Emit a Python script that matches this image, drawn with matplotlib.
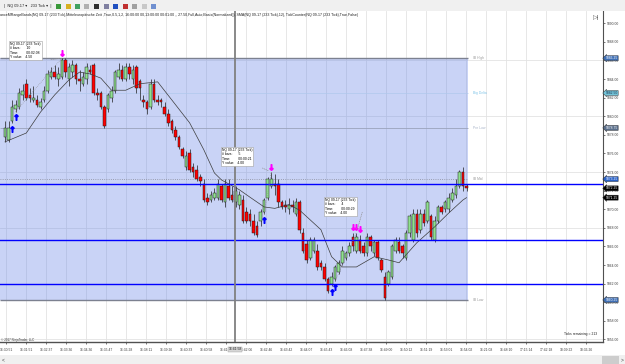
import numpy as np
import matplotlib.pyplot as plt
from matplotlib.patches import Rectangle
import matplotlib.transforms as mtransforms

plt.rcParams['font.family'] = ['Liberation Sans', 'DejaVu Sans']

# NQ 09-17 (233 Tick) bars
opens = [5877.75, 5877.5, 5879.5, 5880.75, 5881.0, 5882.25, 5883.5, 5882.25, 5881.75, 5881.75,
         5881.0, 5881.75, 5882.75, 5884.25, 5884.75, 5884.0, 5884.25, 5886.0, 5884.0, 5884.75,
         5885.5, 5884.0, 5883.5, 5884.0, 5885.0, 5885.5, 5882.5, 5882.5, 5881.0, 5880.75,
         5882.0, 5882.75, 5884.25, 5885.0, 5884.0, 5885.25, 5884.0, 5885.25, 5883.75, 5881.75,
         5881.5, 5881.0, 5883.5, 5881.75, 5881.75, 5881.0, 5880.25, 5879.5, 5878.5, 5877.75,
         5876.5, 5874.5, 5876.0, 5874.5, 5874.25, 5873.5, 5872.75, 5871.25, 5871.0, 5871.25,
         5871.25, 5872.5, 5870.75, 5872.5, 5871.5, 5870.75, 5870.5, 5871.0, 5869.75, 5869.5,
         5868.75, 5868.25, 5868.75, 5869.75, 5871.25, 5872.5, 5872.75, 5872.75, 5870.75, 5870.5,
         5870.0, 5870.5, 5869.5, 5870.75, 5867.5, 5866.25, 5864.75, 5865.5, 5865.5, 5864.25,
         5863.75, 5862.5, 5862.0, 5862.5, 5863.25, 5864.25, 5864.75, 5865.25, 5867.0, 5865.5,
         5866.75, 5866.0, 5865.25, 5867.0, 5865.25, 5866.5, 5864.5, 5862.75, 5862.0, 5862.75,
         5865.5, 5866.5, 5866.0, 5864.75, 5867.5, 5866.75, 5869.5, 5867.75, 5869.5, 5868.75,
         5869.25, 5866.75, 5868.75, 5870.25, 5870.0, 5870.0, 5871.0, 5871.5, 5872.5, 5874.0,
         5872.5]
highs = [5879.5, 5879.5, 5881.75, 5881.75, 5883.0, 5883.5, 5884.0, 5883.0, 5883.25, 5882.25,
         5882.0, 5883.25, 5885.0, 5885.25, 5885.5, 5885.25, 5886.25, 5886.25, 5885.75, 5886.0,
         5885.75, 5885.0, 5884.75, 5885.75, 5885.5, 5885.75, 5883.0, 5882.75, 5881.25, 5882.5,
         5883.25, 5885.0, 5885.75, 5885.5, 5885.75, 5885.75, 5885.5, 5885.5, 5884.0, 5882.25,
         5881.75, 5884.0, 5884.0, 5882.25, 5882.0, 5881.5, 5880.75, 5879.75, 5879.0, 5878.0,
         5876.75, 5876.25, 5876.5, 5875.0, 5874.75, 5873.75, 5873.25, 5871.75, 5872.0, 5872.25,
         5873.25, 5872.75, 5873.25, 5873.25, 5872.5, 5872.5, 5872.0, 5871.5, 5870.25, 5870.0,
         5869.5, 5868.75, 5870.0, 5871.25, 5873.5, 5874.0, 5873.75, 5873.25, 5871.0, 5871.0,
         5871.25, 5871.0, 5871.25, 5871.0, 5868.0, 5866.75, 5867.0, 5867.0, 5866.25, 5864.5,
         5864.25, 5862.75, 5863.25, 5864.0, 5864.5, 5866.0, 5865.5, 5866.5, 5867.5, 5867.5,
         5867.25, 5866.5, 5867.5, 5867.25, 5866.75, 5866.75, 5864.75, 5863.25, 5863.5, 5866.25,
         5867.0, 5867.0, 5866.25, 5867.75, 5869.5, 5870.0, 5870.0, 5870.0, 5870.0, 5871.0,
         5869.5, 5869.25, 5870.5, 5870.5, 5871.0, 5871.75, 5872.25, 5873.25, 5874.25, 5874.5,
         5872.75]
lows = [5877.25, 5877.25, 5879.25, 5880.5, 5880.75, 5881.75, 5881.75, 5881.5, 5881.5, 5881.0,
        5880.75, 5881.5, 5882.5, 5884.0, 5884.0, 5883.25, 5884.0, 5884.25, 5883.25, 5884.25,
        5883.5, 5882.75, 5883.25, 5883.5, 5884.5, 5882.25, 5881.75, 5880.75, 5878.75, 5880.5,
        5881.5, 5882.5, 5884.0, 5883.75, 5883.75, 5884.0, 5883.5, 5882.5, 5881.75, 5881.0,
        5880.25, 5880.75, 5881.5, 5881.25, 5881.0, 5880.0, 5879.0, 5878.25, 5877.5, 5876.5,
        5875.5, 5874.25, 5874.0, 5873.5, 5873.0, 5872.5, 5870.75, 5870.5, 5870.75, 5871.0,
        5871.0, 5870.75, 5870.25, 5871.0, 5870.75, 5870.25, 5870.0, 5868.5, 5868.5, 5868.25,
        5867.25, 5867.0, 5868.25, 5869.5, 5871.0, 5872.25, 5871.5, 5870.25, 5870.0, 5869.75,
        5869.5, 5869.75, 5869.25, 5867.5, 5865.25, 5864.25, 5864.5, 5865.25, 5863.5, 5863.5,
        5862.25, 5861.0, 5861.75, 5862.25, 5863.0, 5864.0, 5864.5, 5865.0, 5865.5, 5865.25,
        5865.25, 5865.0, 5865.0, 5865.5, 5865.0, 5864.5, 5863.25, 5860.25, 5861.75, 5862.5,
        5865.25, 5865.25, 5864.75, 5864.5, 5867.0, 5866.5, 5867.0, 5867.5, 5868.25, 5868.5,
        5866.75, 5866.5, 5868.5, 5869.5, 5869.75, 5869.75, 5870.75, 5871.25, 5872.25, 5872.0,
        5872.0]
closes = [5878.75, 5878.75, 5881.0, 5881.25, 5882.5, 5882.75, 5882.0, 5882.0, 5882.0, 5881.25,
          5881.5, 5882.75, 5884.5, 5884.75, 5884.25, 5884.5, 5886.0, 5884.75, 5885.25, 5885.5,
          5884.0, 5883.75, 5884.25, 5885.25, 5884.75, 5882.5, 5882.25, 5881.0, 5879.0, 5882.25,
          5882.75, 5884.75, 5885.0, 5884.0, 5885.25, 5884.5, 5885.0, 5883.0, 5883.0, 5881.5,
          5880.75, 5883.5, 5881.75, 5881.5, 5881.5, 5880.25, 5879.25, 5878.5, 5877.75, 5876.75,
          5875.75, 5875.75, 5874.25, 5874.0, 5873.25, 5873.0, 5871.0, 5870.75, 5871.5, 5871.75,
          5872.75, 5871.0, 5872.75, 5871.25, 5871.0, 5872.0, 5871.5, 5868.75, 5868.75, 5868.75,
          5867.5, 5867.25, 5869.75, 5871.0, 5873.25, 5873.25, 5872.5, 5870.75, 5870.25, 5870.25,
          5870.5, 5870.25, 5870.75, 5867.75, 5865.5, 5864.5, 5866.75, 5866.75, 5863.75, 5863.75,
          5862.5, 5861.25, 5862.75, 5863.75, 5864.25, 5865.5, 5865.25, 5866.0, 5866.0, 5867.0,
          5865.5, 5865.25, 5867.0, 5866.0, 5866.5, 5864.75, 5863.5, 5860.5, 5863.25, 5866.0,
          5866.75, 5865.5, 5865.25, 5867.5, 5869.25, 5869.5, 5867.5, 5869.5, 5868.5, 5870.75,
          5867.0, 5868.75, 5870.25, 5869.75, 5870.75, 5871.25, 5871.75, 5872.5, 5874.0, 5872.5,
          5872.25]

# SMA(12) at some bars
ma_bars = [0, 6, 10, 14, 18, 21, 24, 27, 30, 34, 38, 43, 47, 52, 56, 59, 61, 66, 69, 73,
           76, 80, 83, 89, 92, 95, 99, 104, 108, 111, 116, 121, 125, 129, 130]
ma_vals = [5877.25, 5878.2, 5880.45, 5882.3, 5883.9, 5884.75, 5884.55, 5884.1, 5882.8, 5882.8,
           5883.5, 5883.7, 5881.75, 5879.3, 5876.4, 5873.9, 5873.15, 5872.1, 5871.3, 5870.25,
           5870.1, 5870.5, 5869.9, 5867.8, 5864.9, 5863.8, 5863.8, 5864.9, 5864.55, 5864.25,
           5866.4, 5868.1, 5869.6, 5871.0, 5871.25]

# range band levels
ib_high = 5886.25
ib_low = 5860.25
ib_mid = 5873.25
pre_low = 5878.75
big_delta = 5882.50
blue_levels = [5872.75, 5866.75, 5862.00]

swing_high_bars = [16, 75, 98, 99, 100]
swing_low_bars = [2, 3, 73, 92, 93]

# tooltip contents: bars, time, y value
tip_bars = ['10', '5', '4']
tip_times = ['00:02:08', '00:00:21', '00:00:29']
tip_yvals = ['4.50', '4.00', '4.00']

time_labels = ['16:30:51', '16:31:51', '16:32:37', '16:33:36', '16:34:36', '16:35:47',
               '16:36:28', '16:38:11', '16:39:26', '16:40:33', '16:40:58', '16:41:26',
               '16:42:06', '16:42:46', '16:43:42', '16:44:07', '16:45:43', '16:46:08',
               '16:47:38', '16:49:00', '16:50:12', '16:51:19', '16:53:01', '16:54:02',
               '16:21:08', '16:48:10', '17:15:14', '17:42:18', '18:09:22', '18:36:26']
price_ticks = np.arange(5856, 5891, 2)

fs = 2.4
fig = plt.figure(figsize=(6.25, 3.64), dpi=100)
ax = fig.add_axes([0, 1 - 342 / 364, 603 / 625, 331 / 364])
ax.set_xlim(-1.41, 168.45)
ax.set_ylim(5855.73, 5891.32)

x = np.arange(len(closes))
o = np.array(opens)
h = np.array(highs)
l = np.array(lows)
c = np.array(closes)
up = c >= o

# grid
tick_pos = 0.4 + np.arange(len(time_labels)) * 20 / 3.55
for t in tick_pos:
    ax.axvline(t, color='#e3e3e3', lw=0.6, zorder=0)
for p in np.arange(5856, 5891, 6):
    ax.axhline(p, color='#e3e3e3', lw=0.6, zorder=0)

# initial balance box
box_right = 130.4
ax.add_patch(Rectangle((-1.41, ib_low), box_right + 1.41, ib_high - ib_low,
                       facecolor='#6a86e8', alpha=0.36, lw=0, zorder=1))
ax.hlines([ib_high, ib_low], -1.41, box_right, color='#7c8190', lw=1.0, zorder=2)
ax.hlines(ib_mid, -1.41, box_right, color='#8a8c98', lw=0.6, ls=':', zorder=2)
ax.hlines(pre_low, -1.41, box_right, color='#9aa3bb', lw=0.6, zorder=2)
ax.hlines(big_delta, -1.41, box_right, color='#b0c8ec', lw=0.5, zorder=2)
for lv, name, col in [(ib_high, 'IB High', '#999999'), (big_delta, 'Big Delta', '#7fc4e8'),
                      (pre_low, 'Pre Low', '#a7b3c8'), (ib_mid, 'IB Mid', '#999999'),
                      (ib_low, 'IB Low', '#999999')]:
    ax.text(box_right + 1.5, lv, name, fontsize=fs, color=col, va='center', ha='left')

# candles
ax.vlines(x, l, h, color='#1e1e1e', lw=0.5, zorder=3)
body_lo = np.minimum(o, c)
body_h = np.maximum(np.abs(c - o), 0.08)
ax.bar(x[up], body_h[up], 0.72, body_lo[up], color='#8fe08f', edgecolor='#1e1e1e', lw=0.35, zorder=4)
ax.bar(x[~up], body_h[~up], 0.72, body_lo[~up], color='#ff0000', edgecolor='#1e1e1e', lw=0.35, zorder=4)

# sma
ax.plot(ma_bars, ma_vals, color='#3c3c3c', lw=0.5, zorder=5)

# blue lines
for lv in blue_levels:
    ax.axhline(lv, color='#0000ff', lw=1.0, zorder=6)

# crosshair
ax.axvline(64.8, color='#808080', lw=1.3, zorder=7)

# swing markers
for b in swing_high_bars:
    ax.plot(b, h[b] + 0.6, marker=r'$\downarrow$', color='#ff00ff', ms=4, zorder=8)
for b in swing_low_bars:
    ax.plot(b, l[b] - 0.6, marker=r'$\uparrow$', color='#0000ff', ms=4, zorder=8)

# tooltips
tip_xy = [(0.0166, 0.906), (0.368, 0.586), (0.539, 0.435)]
tip_corner = [(0.08, 0.852), (0.431, 0.529), (0.602, 0.40)]
tip_hi = [16, 75, 99]
tip_lo = [3, 73, 93]
for i in range(3):
    txt = ('NQ 09-17 (233 Tick)\n# bars:      ' + tip_bars[i] + '\nTime:        ' + tip_times[i]
           + '\nY value:   ' + tip_yvals[i])
    ax.text(tip_xy[i][0], tip_xy[i][1], txt, transform=ax.transAxes, fontsize=fs, va='top',
            ha='left', linespacing=1.1, zorder=9,
            bbox=dict(boxstyle='square,pad=0.3', facecolor='white', edgecolor='#a0a0a0', lw=0.4))
    ax.annotate('', xy=(tip_hi[i], h[tip_hi[i]]), xytext=tip_corner[i], textcoords='axes fraction',
                arrowprops=dict(arrowstyle='-', color='#909090', lw=0.5, ls=':'), zorder=8)
    ax.plot([tip_lo[i], tip_hi[i]], [l[tip_lo[i]], h[tip_hi[i]]], color='#909090', lw=0.5, ls=':', zorder=8)

ax.text(0.99, 0.018, 'Ticks remaining = 213', transform=ax.transAxes, fontsize=fs,
        ha='right', va='bottom', color='#202020')

# tick counter dots under the bars
trans = mtransforms.blended_transform_factory(ax.transData, ax.transAxes)
ax.scatter(x, np.full(len(x), -0.007), s=0.5, marker='s', color='#1f3fd0', transform=trans,
           clip_on=False, zorder=9, linewidths=0)

# axes
ax.yaxis.tick_right()
ax.set_yticks(price_ticks)
ax.set_yticklabels(['%.2f' % p for p in price_ticks])
ax.set_xticks(tick_pos)
ax.set_xticklabels(time_labels)
ax.tick_params(axis='y', labelsize=fs, colors='#404040', length=1.5, width=0.5, pad=1.2)
ax.tick_params(axis='x', labelsize=fs, colors='#404040', length=1.5, width=0.5, pad=2.5)
for s in ['top', 'left']:
    ax.spines[s].set_visible(False)
ax.spines['right'].set_color('#505050')
ax.spines['right'].set_linewidth(0.8)
ax.spines['bottom'].set_color('#505050')
ax.spines['bottom'].set_linewidth(1.0)

# highlighted price markers on the axis
ytr = mtransforms.blended_transform_factory(ax.transAxes, ax.transData)
marks = [(ib_high, '#3f6fb5', 'white'), (big_delta, '#74c4d8', '#1b3550'),
         (pre_low, '#5a6f8c', 'white'), (ib_mid, '#2a62c8', 'white'),
         (closes[-1], 'black', 'white'), (ma_vals[-1], 'black', 'white'),
         (ib_low, '#3f6fb5', 'white')]
for lv, fc, tc in marks:
    ax.text(1.004, lv, '%.2f' % lv, transform=ytr, fontsize=fs, color=tc, va='center', ha='left',
            zorder=10, clip_on=False,
            bbox=dict(boxstyle='larrow,pad=0.15', facecolor=fc, edgecolor='#202020', lw=0.3))

# crosshair time
ax.text(64.8, -0.022, '16:41:58', transform=trans, fontsize=fs, ha='center', va='center',
        color='#202020', zorder=10,
        bbox=dict(boxstyle='square,pad=0.15', facecolor='#d6d6d6', edgecolor='#a0a0a0', lw=0.3))

# window chrome
fig.patches.append(Rectangle((0, 1 - 11 / 364), 1, 11 / 364, transform=fig.transFigure,
                             facecolor='#f0f0f0', edgecolor='none', zorder=0))
fig.text(4 / 625, 1 - 5.5 / 364, '|  NQ 09-17 \u25be   233 Tick \u25be  |', fontsize=2.8,
         va='center', color='#202020')
icon_cols = ['#3a9a3a', '#d8b020', '#40a060', '#b0b0b0', '#303030', '#8080a0', '#2050c0',
             '#c03030', '#a0a0a0', '#c8c8c8', '#7090d0']
for i, col in enumerate(icon_cols):
    xx = 56 + i * 9.5
    fig.patches.append(Rectangle((xx / 625, 1 - 8.5 / 364), 5 / 625, 5 / 364,
                                 transform=fig.transFigure, facecolor=col, edgecolor='none'))
fig.text(0, 1 - 15 / 364,
         'anceMRangeBands(NQ 09-17 (233 Tick),Mitteleurop\u00e4ische Zeit ,True,0.5,1,2, 16:00:00 00,13:00:00 00:01:00 ,, 27.50,Full,Auto,Basis(Normalized)), SMA(NQ 09-17 (233 Tick),12), TickCounter(NQ 09-17 (233 Tick),True,False)',
         fontsize=2.6, va='center', color='#202020')
fig.text(596 / 625, 1 - 17 / 364, '\u25b7|', fontsize=4.5, va='center', ha='center', color='#505050')
fig.text(1 / 625, 0.0604, '\u00a9 2017 NinjaTrader, LLC', fontsize=2.2, color='#303030', va='bottom')
fig.patches.append(Rectangle((0, 0), 1, 9 / 364, transform=fig.transFigure,
                             facecolor='#f0f0f0', edgecolor='none'))
fig.patches.append(Rectangle((602 / 625, 0.5 / 364), 17 / 625, 8 / 364, transform=fig.transFigure,
                             facecolor='#cdcdcd', edgecolor='none'))
fig.text(622 / 625, 4.5 / 364, '>', fontsize=3.5, va='center', ha='center', color='#404040')
fig.text(2 / 625, 4.5 / 364, '<', fontsize=3.5, va='center', ha='left', color='#404040')

fig.savefig('out.png', dpi=100)
